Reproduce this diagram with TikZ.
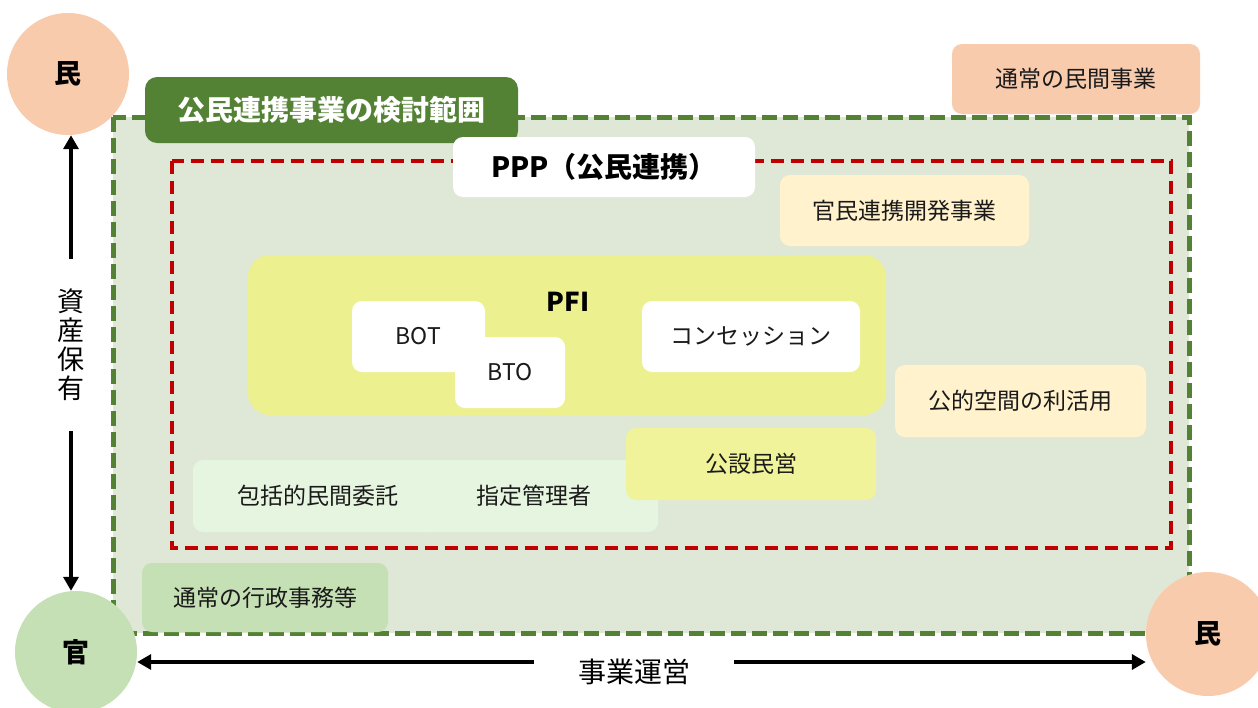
\documentclass[tikz,border=0pt]{standalone}
\usepackage{fontspec}
\setmainfont{Noto Sans CJK JP}
\usetikzlibrary{arrows.meta,calc}
\definecolor{peach}{HTML}{F8CBAD}
\definecolor{kangreen}{HTML}{C5E0B4}
\definecolor{darkgreen}{HTML}{548235}
\definecolor{areagreen}{HTML}{DFE8D6}
\definecolor{pppred}{HTML}{C00000}
\definecolor{cream}{HTML}{FFF2CC}
\definecolor{pfiyellow}{HTML}{EDF08E}
\definecolor{kosetsuyellow}{HTML}{F0F39A}
\definecolor{mint}{HTML}{E6F5DF}
\definecolor{txt}{HTML}{1A1A1A}
\tikzset{
  circ/.style={circle, minimum size=#1, inner sep=0pt, font=\fontsize{27}{30}\selectfont\bfseries},
  box/.style={rounded corners=10pt, inner sep=0pt, text=txt, font=\fontsize{23}{27}\selectfont},
  arr/.style={line width=4.5pt, -{Triangle[width=15pt,length=14pt]}},
}
\begin{document}
\begin{tikzpicture}[x=1pt,y=-1pt]
\useasboundingbox (0,0) rectangle (1258,707);
% outer green area
\fill[areagreen] (113,117) rectangle (1189,633);
\draw[darkgreen, line width=5pt, dash pattern=on 15pt off 6pt] (113,117) rectangle (1189,633);
% circles
\node[circ=122pt, fill=peach] (minTL) at (68,74) {民};
\node[circ=122pt, fill=kangreen] (kan) at (76,652) {官};
\node[circ=124pt, fill=peach] (minR) at (1208,634) {民};
% title
\node[box, rounded corners=12pt, fill=darkgreen, text=white, minimum width=373pt, minimum height=66pt, font=\fontsize{28}{32}\selectfont\bfseries] (title) at (331.5,110) {公民連携事業の検討範囲};
% private
\node[box, fill=peach, minimum width=248pt, minimum height=70pt] (minkan) at (1076,79) {通常の民間事業};
% red PPP area
\draw[pppred, line width=4.5pt, dash pattern=on 13pt off 7pt] (172,161) rectangle (1171,548);
\node[box, fill=white, minimum width=302pt, minimum height=60pt, font=\fontsize{28}{30}\selectfont\bfseries, text=black] (ppp) at (604,167) {PPP（公民連携）};
\node[box, fill=cream, minimum width=249pt, minimum height=71pt] (kaihatsu) at (904.5,210.5) {官民連携開発事業};
\node[box, fill=cream, minimum width=251pt, minimum height=72pt] (koteki) at (1020.5,401) {公的空間の利活用};
% PFI
\node[box, rounded corners=22pt, fill=pfiyellow, minimum width=638pt, minimum height=160pt] (pfi) at (567,335) {};
\node[font=\fontsize{26}{30}\selectfont\bfseries, inner sep=0pt] (pfilabel) at (568,302) {PFI};
\node[box, fill=white, minimum width=133pt, minimum height=71pt] (bot) at (418.5,336.5) {BOT};
\node[box, fill=white, minimum width=110pt, minimum height=71pt] (bto) at (510,372.5) {BTO};
\node[box, fill=white, minimum width=218pt, minimum height=71pt] (conc) at (751,336.5) {コンセッション};
% lower boxes
\node[box, fill=mint, minimum width=248pt, minimum height=72pt] (shitei) at (534,496) {指定管理者};
\node[box, fill=mint, minimum width=249pt, minimum height=72pt] (hokatsu) at (317.5,496) {包括的民間委託};
\node[box, fill=kosetsuyellow, minimum width=250pt, minimum height=72pt] (kosetsu) at (751,464) {公設民営};
\node[box, fill=kangreen, minimum width=246pt, minimum height=69pt] (gyosei) at (265,597.5) {通常の行政事務等};
% axes
\node[font=\fontsize{27}{29}\selectfont, align=center, inner xsep=0pt, inner ysep=30pt] (vlabel) at (71,345) {資\\産\\保\\有};
\node[font=\fontsize{28}{32}\selectfont, inner ysep=0pt, inner xsep=44pt] (hlabel) at (634,672) {事業運営};
\draw[arr] (vlabel.north) -- (vlabel.north |- minTL.south);
\draw[arr] (vlabel.south) -- (vlabel.south |- kan.north);
\coordinate (hlw) at ([yshift=10pt]hlabel.west);
\coordinate (hle) at ([yshift=10pt]hlabel.east);
\draw[arr] (hlw) -- (kan.east |- hlw);
\draw[arr] (hle) -- (minR.west |- hle);
\end{tikzpicture}
\end{document}
